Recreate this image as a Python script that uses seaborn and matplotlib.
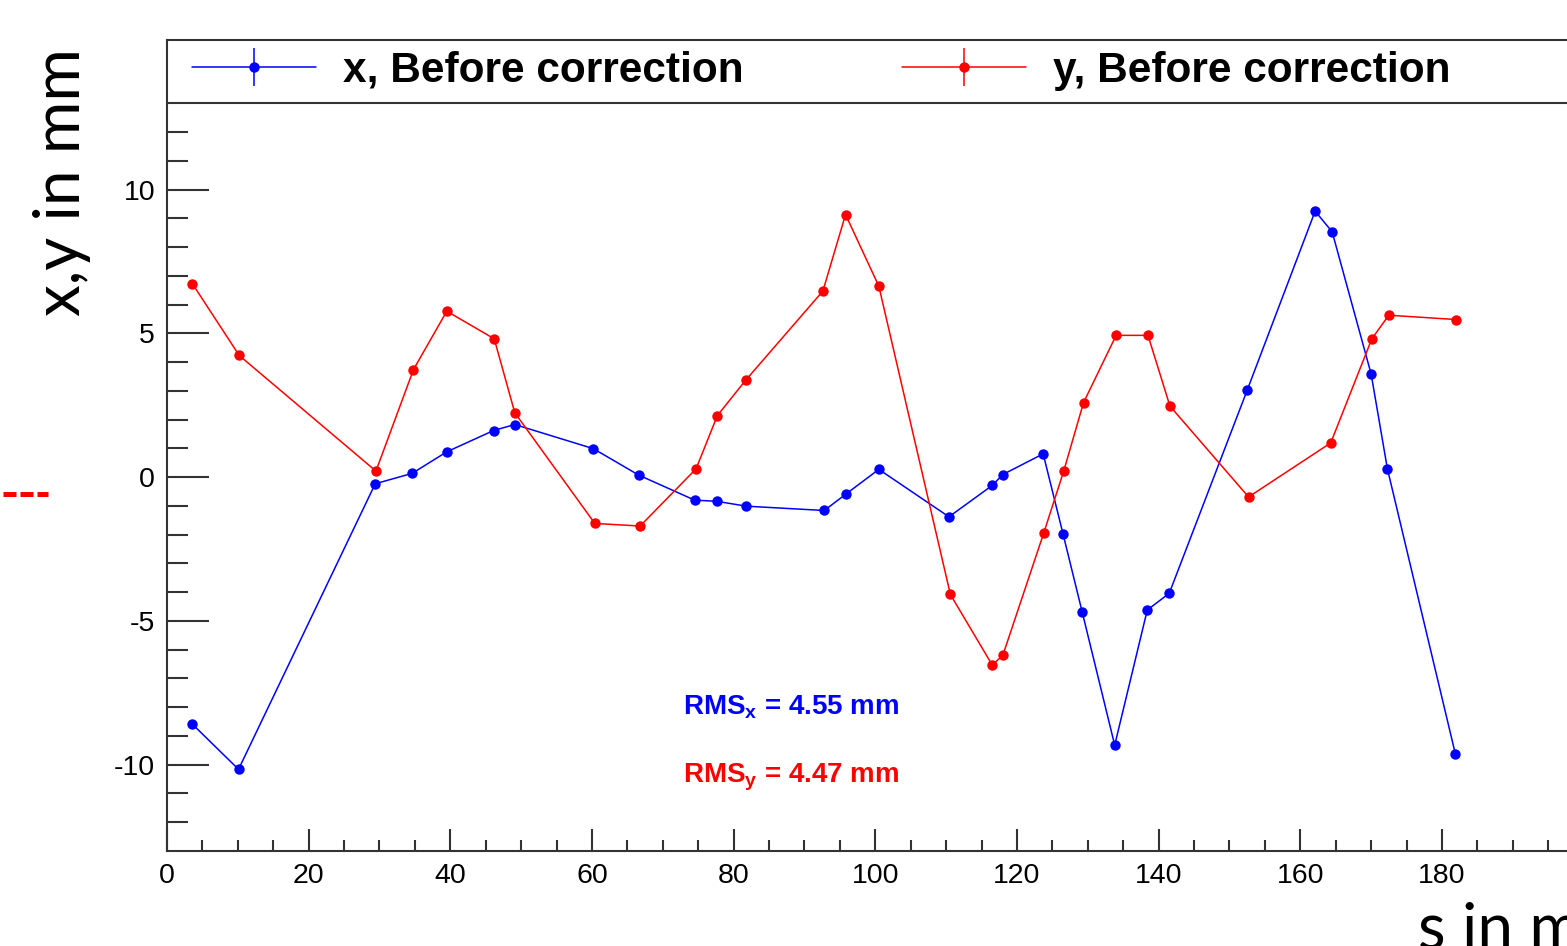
import numpy as np
import pandas as pd
import matplotlib
matplotlib.use("Agg")
import matplotlib.pyplot as plt
import seaborn as sns
from matplotlib.lines import Line2D
from matplotlib.legend_handler import HandlerTuple
from matplotlib.font_manager import FontProperties
from matplotlib.ticker import FixedLocator, MultipleLocator

# ---------------- data ----------------
s_x = [3.5, 10.1, 29.4, 34.6, 39.5, 46.1, 49.1, 60.2, 66.6, 74.5, 77.6, 81.8, 92.8,
       95.9, 100.5, 110.4, 116.5, 118.0, 123.7, 126.5, 129.2, 133.8, 138.4, 141.5,
       152.5, 162.1, 164.5, 170.0, 172.3, 181.9]
x_mm = [-8.57, -10.16, -0.23, 0.13, 0.88, 1.62, 1.83, 0.99, 0.07, -0.80, -0.84, -1.01,
        -1.16, -0.58, 0.27, -1.38, -0.29, 0.09, 0.81, -1.97, -4.68, -9.32, -4.62,
        -4.04, 3.02, 9.25, 8.53, 3.59, 0.29, -9.63]

s_y = [3.6, 10.2, 29.5, 34.8, 39.5, 46.2, 49.1, 60.4, 66.8, 74.7, 77.7, 81.7, 92.6,
       95.8, 100.5, 110.6, 116.5, 118.0, 123.8, 126.6, 129.4, 134.0, 138.5, 141.6,
       152.7, 164.3, 170.1, 172.5, 182.0]
y_mm = [6.72, 4.23, 0.21, 3.74, 5.77, 4.81, 2.24, -1.61, -1.70, 0.29, 2.14, 3.37, 6.47,
        9.13, 6.64, -4.08, -6.53, -6.20, -1.93, 0.21, 2.59, 4.93, 4.93, 2.47, -0.69,
        1.19, 4.81, 5.63, 5.48]

labels = ["x, Before correction", "y, Before correction"]
rms_x = 4.55
rms_y = 4.47
x_ticks = [0, 20, 40, 60, 80, 100, 120, 140, 160, 180]
y_ticks = [-10, -5, 0, 5, 10]

# ---------------- style ----------------
sns.set_style("white")
plt.rcParams["font.family"] = ["Liberation Sans", "DejaVu Sans"]
plt.rcParams["mathtext.fontset"] = "custom"
plt.rcParams["mathtext.rm"] = "Liberation Sans:bold"
plt.rcParams["mathtext.bf"] = "Liberation Sans:bold"
plt.rcParams["axes.unicode_minus"] = False
plt.rcParams["text.color"] = "black"
plt.rcParams["xtick.labelcolor"] = "black"
plt.rcParams["ytick.labelcolor"] = "black"

W, H = 1567, 946
fig = plt.figure(figsize=(W / 100, H / 100), dpi=100)
fig.patch.set_facecolor("white")

ax_left, ax_top, ax_bottom = 167, 40, 851
xmax = 200.0
px_per_unit = 7.083
ax = fig.add_axes([ax_left / W, 1 - ax_bottom / H, xmax * px_per_unit / W,
                   (ax_bottom - ax_top) / H])
ax.set_facecolor("white")

dfx = pd.DataFrame({"s": s_x, "v": x_mm})
dfy = pd.DataFrame({"s": s_y, "v": y_mm})
sns.lineplot(data=dfx, x="s", y="v", ax=ax, sort=False, color="#0000ff", lw=1.1,
             marker="o", markersize=7.5, markeredgewidth=0, zorder=3)
sns.lineplot(data=dfy, x="s", y="v", ax=ax, sort=False, color="#ff0000", lw=1.1,
             marker="o", markersize=7.5, markeredgewidth=0, zorder=3)

ax.set_xlim(0, xmax)
ax.set_ylim(-13, 15.2)
ax.set_xlabel("")
ax.set_ylabel("")

frame_col = "#333333"
for side in ["left", "bottom", "top", "right"]:
    ax.spines[side].set_color(frame_col)
    ax.spines[side].set_linewidth(1.5)
    ax.spines[side].set_visible(True)

ax.xaxis.set_major_locator(FixedLocator(x_ticks))
ax.xaxis.set_minor_locator(MultipleLocator(5))
ax.yaxis.set_major_locator(FixedLocator(y_ticks))
ax.yaxis.set_minor_locator(FixedLocator([v for v in range(-12, 13) if v % 5 != 0]))

ax.tick_params(axis="y", which="major", direction="in", length=30, width=1.5,
               color=frame_col, labelsize=20.5, pad=8.5, left=True, labelcolor="black")
ax.tick_params(axis="y", which="minor", direction="in", length=15, width=1.5,
               color=frame_col, left=True)
ax.tick_params(axis="x", which="major", direction="in", length=16, width=1.5,
               color=frame_col, labelsize=20.5, pad=8.5, bottom=True, labelcolor="black")
ax.tick_params(axis="x", which="minor", direction="in", length=8, width=1.5,
               color=frame_col, bottom=True)

# legend band
ax.axhline(13, color=frame_col, lw=1.5, zorder=4)

def make_handle(col):
    return (Line2D([], [], color=col, lw=1.1),
            Line2D([], [], color=col, marker="|", markersize=28, mew=1.1, ls="none"),
            Line2D([], [], color=col, marker="o", markersize=7.5, mew=0, ls="none"))

leg = ax.legend(handles=[make_handle("#0000ff"), make_handle("#ff0000")], labels=labels,
                handler_map={tuple: HandlerTuple(ndivide=1, pad=0)}, ncol=2,
                loc="center left", bbox_to_anchor=(25 / 1416.7, (851 - 71) / 811),
                frameon=False, borderpad=0, borderaxespad=0, handlelength=2.93,
                handletextpad=0.64, columnspacing=3.73, numpoints=1,
                prop=FontProperties(family="Liberation Sans", weight="bold", size=30.5))
for t in leg.get_texts():
    t.set_color("black")

# RMS annotations
ax.text(72.85, -8.25, r"RMS$_{\mathbf{x}}$ = %.2f mm" % rms_x, color="#0000ff",
        fontsize=20, fontweight="bold", ha="left", va="baseline")
ax.text(72.85, -10.61, r"RMS$_{\mathbf{y}}$ = %.2f mm" % rms_y, color="#ff0000",
        fontsize=20, fontweight="bold", ha="left", va="baseline")

# axis titles (large, slide-style; partly cut off like the reference)
fig.text(80 / W, 1 - 182 / H, "x,y in mm", rotation=90, rotation_mode="anchor",
         ha="center", va="baseline", fontsize=46, family="Lato", color="black")
fig.text(1418 / W, 1 - 948 / H, "s in m", ha="left", va="baseline", fontsize=46,
         family="Lato", color="black")

# red dashes at left edge
fig.add_artist(Line2D([3 / W, 48 / W], [1 - 494 / H, 1 - 494 / H], color="#ff0000",
                      lw=3.6, dashes=(2.6, 0.8), solid_capstyle="butt",
                      dash_capstyle="butt"))

fig.savefig("out.png", dpi=100, facecolor="white")
